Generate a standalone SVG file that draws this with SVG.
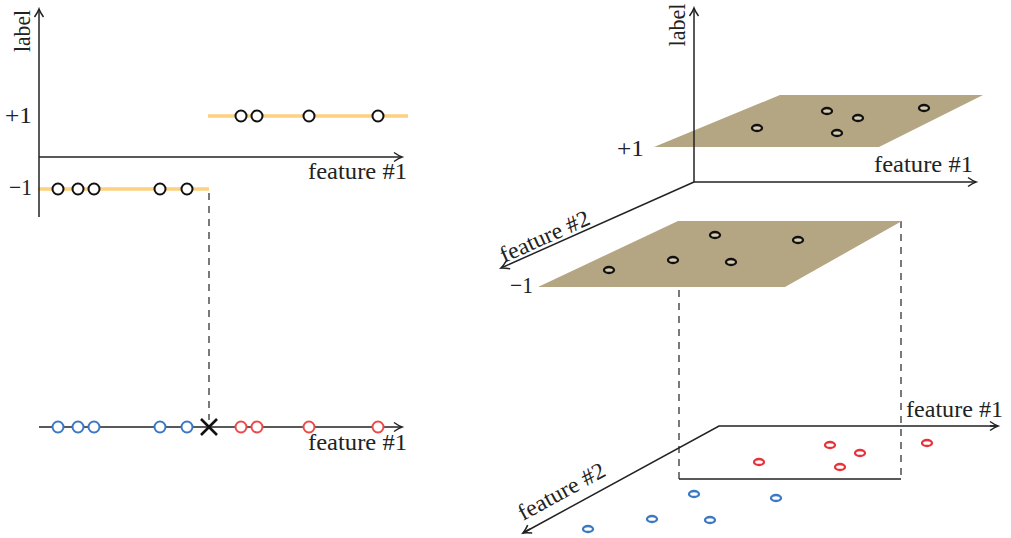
<svg xmlns="http://www.w3.org/2000/svg" width="1011" height="538" viewBox="0 0 1011 538">
<style>
.ax{stroke:#222;stroke-width:1.5;fill:none}
.arr{marker-end:url(#ah)}
.dash{stroke:#333;stroke-width:1.3;stroke-dasharray:7 6;fill:none}
.org{stroke:#FDD17F;stroke-width:3.5;fill:none}
.pk{fill:#fff;stroke:#111;stroke-width:2}
.pb{fill:#fff;stroke:#3A78C3;stroke-width:2}
.pr{fill:#fff;stroke:#EC4A4A;stroke-width:2}
.ek{fill:#d8ccb0;stroke:#111;stroke-width:2.3}
.eb{fill:#fff;stroke:#3A78C3;stroke-width:2.3}
.er{fill:#fff;stroke:#E8323A;stroke-width:2.3}
.plane{fill:#B5A683}
text{font-family:"Liberation Serif","Times New Roman",serif;font-size:23px;fill:#222}
</style>
<defs>
<marker id="ah" markerWidth="14" markerHeight="12" refX="0" refY="0" viewBox="-10 -6 12 12" orient="auto" markerUnits="userSpaceOnUse">
<path d="M-8,-4.5 Q-3,-1 0,0 Q-3,1 -8,4.5" fill="none" stroke="#222" stroke-width="1.5"/>
</marker>
</defs>

<g id="left-top">
<line class="org" x1="208" y1="116" x2="408" y2="116"/>
<line class="org" x1="38" y1="189" x2="209" y2="189"/>
<line class="ax arr" x1="39" y1="217" x2="39" y2="9"/>
<line class="ax arr" x1="39" y1="157" x2="402" y2="157"/>
<text x="30" y="31" transform="rotate(-90 30 31)" text-anchor="middle" textLength="42" lengthAdjust="spacingAndGlyphs">label</text>
<text x="407" y="179" text-anchor="end" textLength="99" lengthAdjust="spacingAndGlyphs">feature #1</text>
<text x="5" y="123" textLength="27" lengthAdjust="spacingAndGlyphs">+1</text>
<text x="9" y="195" textLength="23" lengthAdjust="spacingAndGlyphs">−1</text>
<circle class="pk" cx="241" cy="116" r="5.5"/>
<circle class="pk" cx="257" cy="116" r="5.5"/>
<circle class="pk" cx="309" cy="116" r="5.5"/>
<circle class="pk" cx="378" cy="116" r="5.5"/>
<circle class="pk" cx="58" cy="189" r="5.5"/>
<circle class="pk" cx="78" cy="189" r="5.5"/>
<circle class="pk" cx="94" cy="189" r="5.5"/>
<circle class="pk" cx="160" cy="189" r="5.5"/>
<circle class="pk" cx="187" cy="189" r="5.5"/>
</g>

<g id="connectors">
<line class="dash" x1="209" y1="193" x2="209" y2="420"/>
<line class="dash" x1="679" y1="290" x2="679" y2="479"/>
<line class="dash" x1="901" y1="221" x2="901" y2="479"/>
</g>

<g id="left-bottom">
<line class="ax arr" x1="39" y1="427" x2="402" y2="427"/>
<text x="407" y="450" text-anchor="end" textLength="99" lengthAdjust="spacingAndGlyphs">feature #1</text>
<circle class="pb" cx="58" cy="427" r="5.5"/>
<circle class="pb" cx="78" cy="427" r="5.5"/>
<circle class="pb" cx="94" cy="427" r="5.5"/>
<circle class="pb" cx="160" cy="427" r="5.5"/>
<circle class="pb" cx="187" cy="427" r="5.5"/>
<circle class="pr" cx="241" cy="427" r="5.5"/>
<circle class="pr" cx="257" cy="427" r="5.5"/>
<circle class="pr" cx="309" cy="427" r="5.5"/>
<circle class="pr" cx="378" cy="427" r="5.5"/>
<path d="M201,419 L217,435 M217,419 L201,435" stroke="#111" stroke-width="2.6" fill="none"/>
</g>

<g id="right-top">
<polygon class="plane" points="654,147 780,95 983,95 879,147"/>
<polygon class="plane" points="538,287 678,221 902,221 785,287"/>
<line class="ax arr" x1="694" y1="182" x2="694" y2="8"/>
<line class="ax arr" x1="694" y1="182" x2="976" y2="182"/>
<line class="ax arr" x1="694" y1="182" x2="501" y2="268"/>
<text x="685" y="25" transform="rotate(-90 685 25)" text-anchor="middle" textLength="43" lengthAdjust="spacingAndGlyphs">label</text>
<text x="973" y="172" text-anchor="end" textLength="99" lengthAdjust="spacingAndGlyphs">feature #1</text>
<text x="504" y="263" transform="rotate(-24.2 504 263)" textLength="96" lengthAdjust="spacingAndGlyphs">feature #2</text>
<text x="617" y="156" textLength="27" lengthAdjust="spacingAndGlyphs">+1</text>
<text x="510" y="293" textLength="23" lengthAdjust="spacingAndGlyphs">−1</text>
<ellipse class="ek" cx="757" cy="128" rx="5" ry="3"/>
<ellipse class="ek" cx="827" cy="111" rx="5" ry="3"/>
<ellipse class="ek" cx="858" cy="118" rx="5" ry="3"/>
<ellipse class="ek" cx="837" cy="133" rx="5" ry="3"/>
<ellipse class="ek" cx="924" cy="108" rx="5" ry="3"/>
<ellipse class="ek" cx="609" cy="270" rx="5" ry="3"/>
<ellipse class="ek" cx="673" cy="260" rx="5" ry="3"/>
<ellipse class="ek" cx="715" cy="235" rx="5" ry="3"/>
<ellipse class="ek" cx="731" cy="262" rx="5" ry="3"/>
<ellipse class="ek" cx="798" cy="240" rx="5" ry="3"/>
</g>

<g id="right-bottom">
<line class="ax" x1="679" y1="479" x2="901" y2="479"/>
<polyline class="ax" points="523,533 719,426 998,426"/>
<line class="ax arr" x1="990" y1="426" x2="998" y2="426"/>
<line class="ax arr" x1="530" y1="529" x2="523" y2="533"/>
<text x="1003" y="417" text-anchor="end" textLength="97" lengthAdjust="spacingAndGlyphs">feature #1</text>
<text x="523" y="521" transform="rotate(-28.6 523 521)" textLength="96" lengthAdjust="spacingAndGlyphs">feature #2</text>
<ellipse class="er" cx="759" cy="462" rx="5" ry="3"/>
<ellipse class="er" cx="830" cy="445" rx="5" ry="3"/>
<ellipse class="er" cx="860" cy="453" rx="5" ry="3"/>
<ellipse class="er" cx="840" cy="467" rx="5" ry="3"/>
<ellipse class="er" cx="927" cy="443" rx="5" ry="3"/>
<ellipse class="eb" cx="694" cy="494" rx="5" ry="3"/>
<ellipse class="eb" cx="776" cy="498" rx="5" ry="3"/>
<ellipse class="eb" cx="652" cy="519" rx="5" ry="3"/>
<ellipse class="eb" cx="710" cy="520" rx="5" ry="3"/>
<ellipse class="eb" cx="588" cy="529" rx="5" ry="3"/>
</g>
</svg>
